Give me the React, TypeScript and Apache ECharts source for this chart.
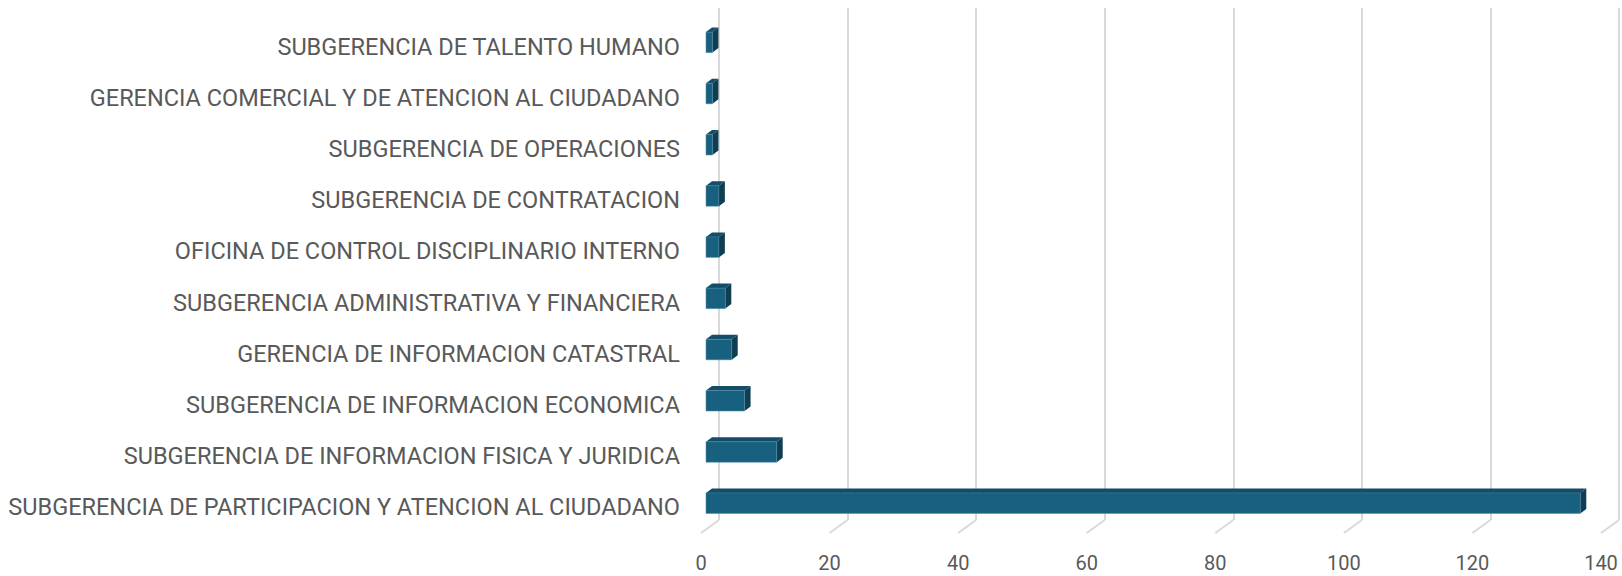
import React, { useEffect, useRef } from "react";
import * as echarts from "echarts";

const categories = [
  "SUBGERENCIA DE TALENTO HUMANO",
  "GERENCIA COMERCIAL Y DE ATENCION AL CIUDADANO",
  "SUBGERENCIA DE OPERACIONES",
  "SUBGERENCIA DE CONTRATACION",
  "OFICINA DE CONTROL DISCIPLINARIO INTERNO",
  "SUBGERENCIA ADMINISTRATIVA Y FINANCIERA",
  "GERENCIA DE INFORMACION CATASTRAL",
  "SUBGERENCIA DE INFORMACION ECONOMICA",
  "SUBGERENCIA DE INFORMACION FISICA Y JURIDICA",
  "SUBGERENCIA DE PARTICIPACION Y ATENCION AL CIUDADANO",
];
const values = [1, 1, 1, 2, 2, 3, 4, 6, 11, 136];
const xTicks = [0, 20, 40, 60, 80, 100, 120, 140];

const FRONT = "#17607f";
const TOP = "#134d67";
const SIDE = "#0f3d52";
const GRID = "#d9d9d9";
const TEXT = "#595959";

export default function App() {
  const ref = useRef<HTMLDivElement>(null);
  useEffect(() => {
    if (!ref.current) return;
    const chart = echarts.init(ref.current, null, { renderer: "svg" });
    const barData = values.map((v, i) => [v, i]);
    chart.setOption({
      animation: false,
      grid: [
        { left: 719, top: 8, width: 900, height: 512, containLabel: false, outerBoundsMode: "none" },
        { left: 701, top: 21, width: 900, height: 512, containLabel: false, outerBoundsMode: "none" },
      ],
      xAxis: [
        {
          type: "value", gridIndex: 0, min: 0, max: 140, interval: 20,
          axisLine: { show: false }, axisTick: { show: false }, axisLabel: { show: false },
          splitLine: { show: true, lineStyle: { color: GRID, width: 2 } },
        },
        {
          type: "value", gridIndex: 1, min: 0, max: 140, interval: 20,
          axisLine: { show: false }, axisTick: { show: false }, splitLine: { show: false },
          axisLabel: { show: true, color: TEXT, fontSize: 20, fontFamily: "Roboto", margin: 20 },
        },
      ],
      yAxis: [
        {
          type: "category", gridIndex: 0, data: categories, inverse: true,
          axisLine: { show: false }, axisTick: { show: false }, axisLabel: { show: false },
          splitLine: { show: false },
        },
        {
          type: "category", gridIndex: 1, data: categories, inverse: true,
          axisLine: { show: false }, axisTick: { show: false }, splitLine: { show: false },
          axisLabel: {
            show: true, color: TEXT, fontSize: 23.5, fontFamily: "Roboto", margin: 21,
            padding: [5, 0, 0, 0],
          },
        },
      ],
      series: [
        {
          type: "custom", xAxisIndex: 1, yAxisIndex: 1, silent: true,
          data: xTicks.map((t) => [t, 0]),
          renderItem: (params: any, api: any) => {
            const p = api.coord([api.value(0), 0]);
            const cs = params.coordSys;
            const bottom = cs.y + cs.height;
            return {
              type: "line",
              shape: { x1: p[0] + 18, y1: bottom - 13, x2: p[0], y2: bottom },
              style: { stroke: GRID, lineWidth: 2 },
            };
          },
        },
        {
          type: "custom", xAxisIndex: 1, yAxisIndex: 1,
          data: barData,
          renderItem: (params: any, api: any) => {
            const v = api.value(0);
            const c = api.value(1);
            const p0 = api.coord([0, c]);
            const p1 = api.coord([v, c]);
            const x0 = p0[0] + 5;
            const x1 = p1[0] + 5;
            const yc = p0[1];
            const top = yc - 14.5;
            const bot = yc + 6;
            const dx = 6;
            const dy = 4.5;
            return {
              type: "group",
              children: [
                {
                  type: "polygon",
                  shape: { points: [[x0, top], [x1, top], [x1 + dx, top - dy], [x0 + dx, top - dy]] },
                  style: { fill: TOP },
                },
                {
                  type: "polygon",
                  shape: { points: [[x1, top], [x1 + dx, top - dy], [x1 + dx, bot - dy], [x1, bot]] },
                  style: { fill: SIDE },
                },
                {
                  type: "rect",
                  shape: { x: x0, y: top, width: x1 - x0, height: bot - top },
                  style: { fill: FRONT, stroke: "#4f8aa3", lineWidth: 0.5 },
                },
              ],
            };
          },
        },
      ],
    });
    return () => chart.dispose();
  }, []);
  return (
    <div
      ref={ref}
      style={{ position: "absolute", left: 0, top: 0, width: 1622, height: 576 }}
    />
  );
}
